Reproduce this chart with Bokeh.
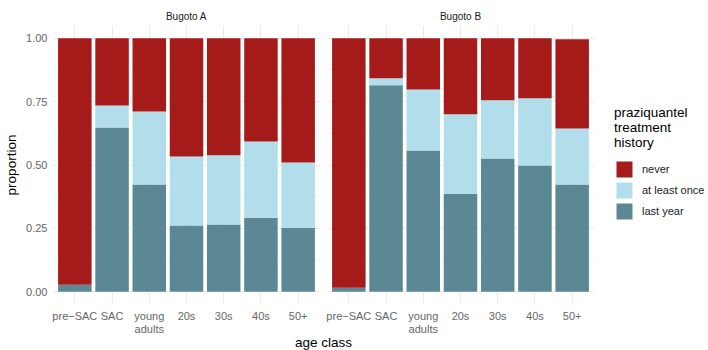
from bokeh.plotting import figure
from bokeh.layouts import row, column
from bokeh.models import (ColumnDataSource, Range1d, FixedTicker, Label, Legend,
                          LegendItem, NumeralTickFormatter)
from bokeh.embed import file_html
from bokeh.resources import INLINE

# age classes and their axis labels
age_classes = ["pre-SAC", "SAC", "young adults", "20s", "30s", "40s", "50+"]
tick_labels = ["pre\u2212SAC", "SAC", "young\nadults", "20s", "30s", "40s", "50+"]
villages = ["Bugoto A", "Bugoto B"]

# proportion of each age class by praziquantel treatment history
a_last_year = [0.028, 0.648, 0.423, 0.261, 0.265, 0.292, 0.253]
a_at_least_once = [0.000, 0.087, 0.288, 0.273, 0.273, 0.301, 0.257]
a_never = [0.972, 0.265, 0.289, 0.466, 0.462, 0.407, 0.490]

b_last_year = [0.016, 0.814, 0.557, 0.387, 0.526, 0.498, 0.423]
b_at_least_once = [0.000, 0.028, 0.241, 0.313, 0.229, 0.265, 0.221]
b_never = [0.984, 0.158, 0.202, 0.300, 0.245, 0.237, 0.352]

history = ["never", "at least once", "last year"]
palette = {"never": "#A51B1A", "at least once": "#B2DEEC", "last year": "#5B8894"}
stack_cols = ["last", "once", "never"]
stack_colors = [palette["last year"], palette["at least once"], palette["never"]]

FONT = "Liberation Sans"
TITLE_SIZE = "13.5px"
TEXT_SIZE = "11px"
n = len(age_classes)
xs = [i + 1 for i in range(n)]
y_ticks = [0, 0.25, 0.5, 0.75, 1.0]
y_minor = [0.125, 0.375, 0.625, 0.875]

PANEL_W = 268
PANEL_H = 338
TOP = 25
BOTTOM = 34
LEGEND_W = 114


def make_source(last, once, never):
    return ColumnDataSource(dict(x=xs, last=last, once=once, never=never))


def panel(title, src, left_border, show_y):
    p = figure(width=left_border + PANEL_W, height=PANEL_H,
               output_backend="svg", toolbar_location=None,
               x_range=Range1d(0.4, n + 0.6), y_range=Range1d(-0.05, 1.05),
               min_border_left=left_border, min_border_right=0,
               min_border_top=TOP, min_border_bottom=BOTTOM)
    p.outline_line_color = None

    p.vbar_stack(stack_cols, x="x", width=0.9, source=src,
                 color=stack_colors, line_color=None)

    # facet strip label
    p.title.text = title
    p.title.align = "center"
    p.title.text_font = FONT
    p.title.text_font_size = "10px"
    p.title.text_font_style = "normal"
    p.title.text_color = "#1A1A1A"
    p.title.standoff = 8

    p.xaxis.ticker = FixedTicker(ticks=xs)
    p.xaxis.major_label_overrides = dict(zip(xs, tick_labels))
    p.yaxis.ticker = FixedTicker(ticks=y_ticks, minor_ticks=y_minor)
    p.yaxis.formatter = NumeralTickFormatter(format="0.00")
    for ax in (p.xaxis, p.yaxis):
        ax.axis_line_color = None
        ax.major_tick_line_color = None
        ax.minor_tick_line_color = None
        ax.major_tick_out = 0
        ax.major_tick_in = 0
        ax.minor_tick_out = 0
        ax.minor_tick_in = 0
        ax.major_label_text_font = FONT
        ax.major_label_text_font_size = TEXT_SIZE
        ax.major_label_text_color = "#666666"
        ax.axis_label_text_font = FONT
        ax.axis_label_text_font_size = TITLE_SIZE
        ax.axis_label_text_font_style = "normal"
        ax.axis_label_text_color = "black"
    p.xaxis.major_label_standoff = 5
    p.xaxis.major_label_text_line_height = 1.15
    p.yaxis.major_label_standoff = 5
    if show_y:
        p.yaxis.axis_label = "proportion"
        p.yaxis.axis_label_standoff = 4
    else:
        p.yaxis.visible = False

    p.xgrid.grid_line_color = "#EBEBEB"
    p.xgrid.grid_line_width = 1.1
    p.ygrid.ticker = FixedTicker(ticks=y_ticks, minor_ticks=y_minor)
    p.ygrid.grid_line_color = "#EBEBEB"
    p.ygrid.grid_line_width = 1.1
    p.ygrid.minor_grid_line_color = "#EBEBEB"
    p.ygrid.minor_grid_line_width = 0.55
    return p


src_a = make_source(a_last_year, a_at_least_once, a_never)
src_b = make_source(b_last_year, b_at_least_once, b_never)
pa = panel(villages[0], src_a, 52, True)
pb = panel(villages[1], src_b, 6, False)

# legend panel; its entries point at hidden copies of the stacked bars
lg = figure(width=LEGEND_W, height=PANEL_H, output_backend="svg",
            toolbar_location=None, x_range=Range1d(0.4, n + 0.6),
            y_range=Range1d(-0.05, 1.05), min_border=0)
lg.axis.visible = False
lg.grid.visible = False
lg.outline_line_color = None
hidden = lg.vbar_stack(stack_cols, x="x", width=0.9, source=src_b,
                       color=stack_colors, line_color=None)
for r in hidden:
    r.visible = False
by_name = {"last year": hidden[0], "at least once": hidden[1], "never": hidden[2]}
legend = Legend(items=[LegendItem(label=h, renderers=[by_name[h]]) for h in history],
                location=(20, 83), title="praziquantel\ntreatment\nhistory",
                title_text_font=FONT, title_text_font_size=TITLE_SIZE,
                title_text_font_style="normal", title_text_color="black",
                title_text_line_height=1.1, title_standoff=9,
                label_text_font=FONT, label_text_font_size=TEXT_SIZE,
                label_text_color="#1A1A1A", label_standoff=8,
                glyph_width=20, glyph_height=20, spacing=1,
                padding=0, margin=0, border_line_color=None,
                background_fill_alpha=0, inactive_fill_alpha=0)
lg.add_layout(legend)

# shared x axis title under both panels
FOOT_H = 20
foot = figure(width=708, height=FOOT_H, output_backend="svg",
              toolbar_location=None, x_range=Range1d(0, 708),
              y_range=Range1d(0, FOOT_H), min_border=0)
foot.axis.visible = False
foot.grid.visible = False
foot.outline_line_color = None
foot.background_fill_alpha = 0
foot.border_fill_alpha = 0
foot.margin = (350 - PANEL_H - FOOT_H, 0, 0, 0)
foot.add_layout(Label(x=(52 + 52 + 2 * PANEL_W + 6) / 2, y=8, text="age class",
                      text_align="center", text_baseline="middle",
                      text_font=FONT, text_font_size=TITLE_SIZE, text_color="black"))

layout = column(row(pa, pb, lg), foot)
open("out.html", "w").write(file_html(layout, INLINE))
